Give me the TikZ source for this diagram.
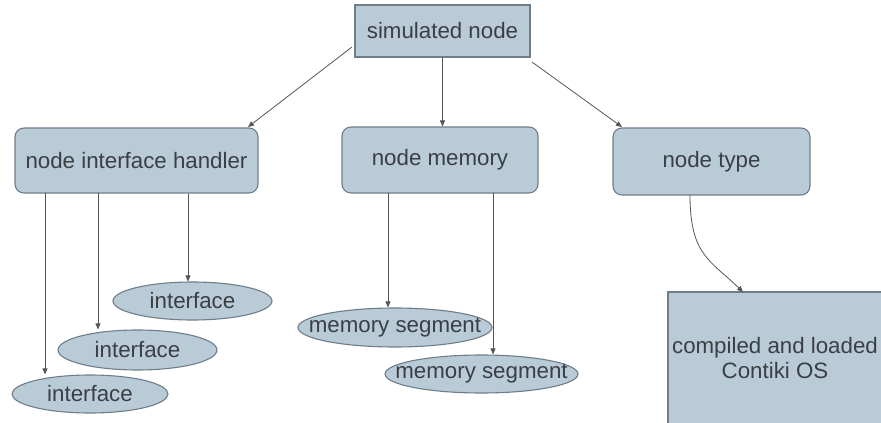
\documentclass[tikz,border=0pt]{standalone}
\usepackage{fontspec}
\setmainfont{Liberation Sans}
\usetikzlibrary{shapes.geometric,arrows.meta}
\definecolor{boxfill}{HTML}{B9CBD7}
\definecolor{boxline}{HTML}{6F7D88}
\definecolor{txt}{HTML}{3A3F45}
\definecolor{arr}{HTML}{555555}
\tikzset{
  base/.style={draw=boxline, fill=boxfill, line width=1.1pt, text=txt, font=\fontsize{22.3}{25}\selectfont, inner sep=0pt},
  sqbox/.style={base, rectangle},
  rbox/.style={base, rectangle, rounded corners=9pt},
  ell/.style={base, ellipse},
  segell/.style={ell, inner xsep=-18pt},
  link/.style={draw=arr, line width=0.8pt, -{Triangle[length=6pt,width=5pt]}}
}
\begin{document}
\begin{tikzpicture}[x=1pt,y=-1pt]
\useasboundingbox (0,0) rectangle (881,423);
\begin{scope}
\clip (0,0) rectangle (881,423);
\node[sqbox, minimum width=175pt, minimum height=52pt] (sim) at (442.5,31) {simulated node};
\node[rbox, minimum width=243pt, minimum height=65pt] (nih) at (136.5,160.5) {node interface handler};
\node[rbox, minimum width=196pt, minimum height=66pt] (mem) at (440,160) {node memory};
\node[rbox, minimum width=197pt, minimum height=67pt] (typ) at (711.5,161.5) {node type};
\node[sqbox, minimum width=214pt, minimum height=132pt, align=center] (os) at (775,358) {compiled and loaded\\Contiki OS};
\node[ell, minimum width=159pt, minimum height=38pt] (if1) at (192.5,301) {interface};
\node[ell, minimum width=159pt, minimum height=40pt] (if2) at (137.5,350) {interface};
\node[ell, minimum width=156pt, minimum height=38pt] (if3) at (90,394) {interface};
\node[segell, minimum width=194pt, minimum height=39pt] (ms1) at (395,327.5) {memory segment};
\node[segell, minimum width=193pt, minimum height=38pt] (ms2) at (481.5,374) {memory segment};

\coordinate (a1) at (352,47);
\coordinate (a2) at (248,127);
\coordinate (b1) at (532,62);
\coordinate (b2) at (622,127);
\draw[link] (a1) -- (a2);
\draw[link] (sim.south) -- (sim.south |- mem.north);
\draw[link] (b1) -- (b2);
\draw[link] (nih.south -| if1.north) ++(-4.5,0) coordinate (c1) -- (c1 |- if1.north);
\coordinate (c2) at (98,193);
\draw[link] (c2) -- (c2 |- if2.north);
\coordinate (c3) at (45,193);
\draw[link] (c3) -- (c3 |- if3.north);
\coordinate (d1) at (388,193);
\draw[link] (d1) -- (d1 |- ms1.north);
\coordinate (d2) at (493,193);
\draw[link] (d2) -- (d2 |- ms2.north);
\coordinate (t1) at (690,195);
\coordinate (t2) at (743,292);
\draw[link] (t1) .. controls (690,255) and (710,260) .. (t2);
\end{scope}
\end{tikzpicture}
\end{document}
